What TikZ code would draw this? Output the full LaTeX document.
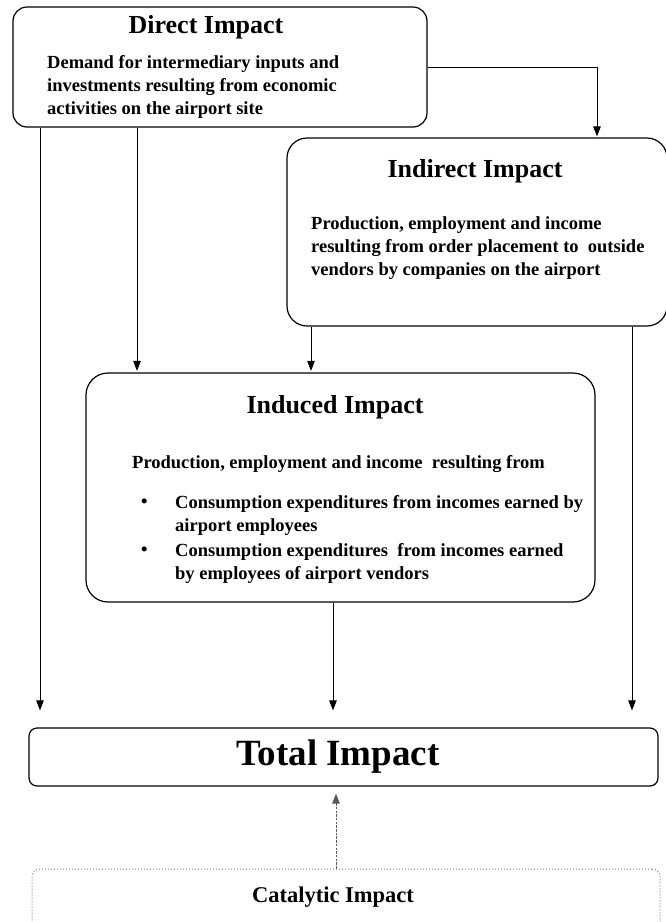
\documentclass[tikz,border=0pt]{standalone}
\usepackage{fontspec}
\setmainfont{Liberation Serif}
\usetikzlibrary{arrows.meta}
\begin{document}
\begin{tikzpicture}[x=1pt,y=-1pt,
  box/.style={draw, line width=1.2pt, inner sep=0pt},
  ttl/.style={font=\bfseries\fontsize{26}{30}\selectfont, inner sep=0pt},
  body/.style={font=\bfseries\fontsize{18.5}{23}\selectfont, inner sep=0pt, align=left, anchor=west},
  conn/.style={line width=0.9pt, -{Triangle[length=10pt,width=7.5pt]}},
  dconn/.style={line width=0.9pt, gray!70!black, dash pattern=on 2.5pt off 1.2pt, -{Triangle[length=10pt,width=7.5pt]}},
]
\useasboundingbox (0,0) rectangle (666,922);
\clip (0,0) rectangle (666,922);

% boxes
\node[box, rounded corners=14pt, minimum width=414pt, minimum height=120pt] (direct) at (220,67) {};
\node[box, rounded corners=20pt, minimum width=380pt, minimum height=188pt] (indirect) at (477,232) {};
\node[box, rounded corners=22pt, minimum width=509pt, minimum height=229pt] (induced) at (340.5,487.5) {};
\node[box, rounded corners=8pt, minimum width=629pt, minimum height=58pt] (total) at (343.5,757) {};
\node[draw, gray, line width=1pt, dotted, rounded corners=8pt, inner sep=0pt, minimum width=628pt, minimum height=71pt] (catalytic) at (346,904.5) {};

% texts
\node[ttl] (directT) at (206,27) {Direct Impact};
\node[body] (directB) at (47,87) {Demand for intermediary inputs and\\investments resulting from economic\\activities on the airport site};

\node[ttl] (indirectT) at (475,171) {Indirect Impact};
\node[body] (indirectB) at (311,248) {Production, employment and income\\resulting from order placement to\ \ outside\\vendors by companies on the airport};

\node[ttl] (inducedT) at (335,407) {Induced Impact};
\node[body] (inducedB) at (132,464) {Production, employment and income\ \ resulting from};
\node[body] (bul1) at (141,503) {\textbullet};
\node[body] (item1) at (175,515) {Consumption expenditures from incomes earned by\\airport employees};
\node[body] (bul2) at (141,551) {\textbullet};
\node[body] (item2) at (175,563) {Consumption expenditures\ \ from incomes earned\\by employees of airport vendors};

\node[font=\bfseries\fontsize{37}{40}\selectfont, inner sep=0pt] (totalT) at (338,757) {Total Impact};
\node[font=\bfseries\fontsize{22.5}{26}\selectfont, inner sep=0pt] (catalyticT) at (333,897) {Catalytic Impact};

% x positions of vertical connectors
\coordinate (xL) at (40,0);
\coordinate (xA) at (137,0);
\coordinate (xB) at (311,0);
\coordinate (xM) at (333,0);
\coordinate (xC) at (336,0);
\coordinate (xR) at (632,0);
\coordinate (xI) at (597,0);

% connectors
\draw[conn, shorten >=1pt] (direct.east) -| (indirect.north -| xI);
\draw[conn, shorten >=17pt] (direct.south -| xL) -- (total.north -| xL);
\draw[conn, shorten >=1.5pt] (direct.south -| xA) -- (induced.north -| xA);
\draw[conn, shorten >=1.5pt] (indirect.south -| xB) -- (induced.north -| xB);
\draw[conn, shorten >=17pt] (indirect.south -| xR) -- (total.north -| xR);
\draw[conn, shorten >=17pt] (induced.south -| xM) -- (total.north -| xM);
\draw[dconn, shorten >=7pt] (catalytic.north -| xC) -- (total.south -| xC);
\end{tikzpicture}
\end{document}
